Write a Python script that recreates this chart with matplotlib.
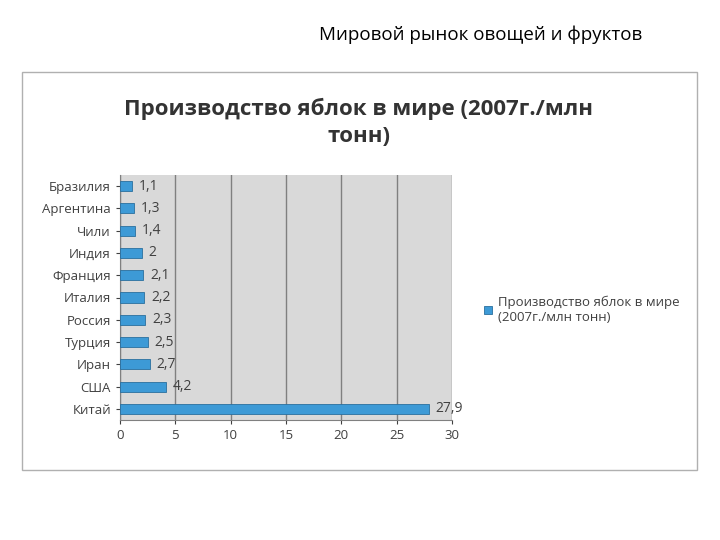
import matplotlib.pyplot as plt
from matplotlib.patches import Rectangle

countries = ['Бразилия', 'Аргентина', 'Чили', 'Индия', 'Франция', 'Италия',
             'Россия', 'Турция', 'Иран', 'США', 'Китай']
values = [1.1, 1.3, 1.4, 2, 2.1, 2.2, 2.3, 2.5, 2.7, 4.2, 27.9]
labels = ['1,1', '1,3', '1,4', '2', '2,1', '2,2', '2,3', '2,5', '2,7', '4,2', '27,9']

plt.rcParams['font.family'] = ['Open Sans', 'DejaVu Sans']

fig = plt.figure(figsize=(7.2, 5.4), dpi=100)
fig.text(0.667, 0.935, 'Мировой рынок овощей и фруктов', ha='center', va='center',
         fontsize=13.5)
# chart frame
fig.patches.append(Rectangle((22 / 720, 1 - 470 / 540), 675 / 720, 398 / 540,
                             transform=fig.transFigure, fill=False,
                             edgecolor='#b0b0b0', lw=1))
fig.text(0.498, 0.773, 'Производство яблок в мире (2007г./млн\nтонн)', ha='center',
         va='center', fontsize=16, fontweight='bold', color='#333333', linespacing=1.35)

ax = fig.add_axes([120 / 720, 1 - 420 / 540, 332 / 720, 245 / 540])
ax.set_facecolor('#d9d9d9')
y = list(range(len(countries)))[::-1]
ax.barh(y, values, height=0.45, color='#3d9ad6', edgecolor='#2a6f9e', lw=0.6,
        label='Производство яблок в мире\n(2007г./млн тонн)', zorder=3)
for yi, v, t in zip(y, values, labels):
    ax.text(v + 0.6, yi, t, va='center', fontsize=10, color='#404040')
ax.set_xlim(0, 30)
ax.set_ylim(-0.5, len(countries) - 0.5)
ax.set_xticks(range(0, 31, 5))
ax.set_yticks(y)
ax.set_yticklabels(countries)
ax.tick_params(labelsize=9.5, colors='#404040', length=3)
ax.grid(axis='x', color='#808080', lw=1, zorder=0)
for s in ['top', 'right']:
    ax.spines[s].set_visible(False)
for s in ['left', 'bottom']:
    ax.spines[s].set_color('#808080')
ax.legend(loc='center left', bbox_to_anchor=(1.06, 0.45), frameon=False,
          fontsize=9.5, handlelength=0.6, handleheight=0.6, handletextpad=0.5,
          labelcolor='#404040')

fig.savefig('out.png')
